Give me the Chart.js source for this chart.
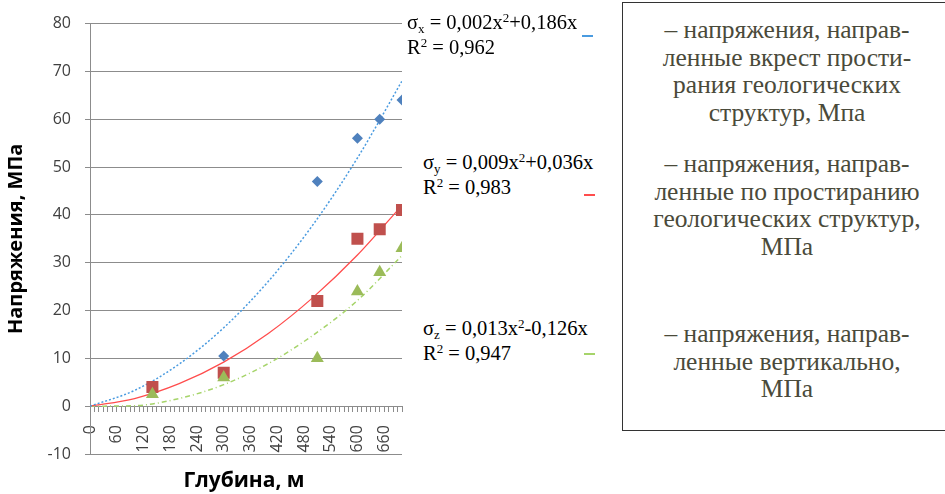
<!DOCTYPE html>
<html lang="ru">
<head>
  <meta charset="UTF-8">
  <title>Напряжения по глубине</title>
  <script src="https://cdn.jsdelivr.net/npm/chart.js"></script>
  <style>
    body {
      margin: 0;
      width: 945px;
      height: 494px;
      overflow: hidden;
      background: #fff;
      position: relative;
      font-family: 'Liberation Serif', 'Times New Roman', serif;
    }

    #stressChart {
      position: absolute;
      left: 0;
      top: 0;
    }

    .x-title {
      position: absolute;
      left: 144px;
      width: 200px;
      top: 465px;
      text-align: center;
      font: bold 21px 'Open Sans', sans-serif;
      color: #000;
    }

    .eq {
      position: absolute;
      font-size: 20.5px;
      line-height: 25px;
      color: #000;
      white-space: nowrap;
    }

    .eq sub { font-size: 13px; vertical-align: -4px; line-height: 0; }
    .eq sup { font-size: 13px; vertical-align: 7px; line-height: 0; }

    .swatch {
      position: absolute;
      width: 11px;
      height: 0;
    }

    .legend-box {
      position: absolute;
      left: 622px;
      top: 2px;
      width: 340px;
      height: 429px;
      border: 1.5px solid #333;
      box-sizing: border-box;
    }

    .legend-box p {
      position: absolute;
      left: 0;
      width: 328px;
      margin: 0;
      text-align: center;
      font-family: 'Liberation Serif', serif;
      font-size: 25.5px;
      line-height: 27.5px;
      color: #4a4a3a;
    }
  </style>
</head>
<body>
  <canvas id="stressChart" width="420" height="494"></canvas>

  <div class="x-title">Глубина, м</div>

  <div class="eq" style="left: 407px; top: 10px;">σ<sub>x</sub> = 0,002x<sup>2</sup>+0,186x<br>R<sup>2</sup> = 0,962</div>
  <div class="eq" style="left: 423px; top: 150px;">σ<sub>y</sub> = 0,009x<sup>2</sup>+0,036x<br>R<sup>2</sup> = 0,983</div>
  <div class="eq" style="left: 423px; top: 316px;">σ<sub>z</sub> = 0,013x<sup>2</sup>-0,126x<br>R<sup>2</sup> = 0,947</div>

  <div class="swatch" style="left: 582px; top: 35px; border-top: 2px dashed #4a9be0;"></div>
  <div class="swatch" style="left: 584px; top: 194px; border-top: 2px solid #ff4d4d;"></div>
  <div class="swatch" style="left: 584px; top: 353px; border-top: 2px dashed #a6d46a;"></div>

  <div class="legend-box">
    <p style="top: 13px;">– напряжения, направ-<br>ленные вкрест прости-<br>рания геологических<br>структур, Мпа</p>
    <p style="top: 147px;">– напряжения, направ-<br>ленные по простиранию<br>геологических структур,<br>МПа</p>
    <p style="top: 317px;">– напряжения, направ-<br>ленные вертикально,<br>МПа</p>
  </div>

  <script>
    // замеры на глубинах, м
    const depths = [140, 300, 510, 600, 650, 700];
    const sigmaX = [4, 10.5, 47, 56, 60, 64];
    const sigmaY = [4, 7, 22, 35, 37, 41];
    const sigmaZ = [2.5, 6, 10, 24, 28, 33];

    // линии тренда
    const trendDepths = [0, 100, 200, 300, 400, 500, 600, 700];
    const trendX = [0, 3.3, 8.8, 16.4, 26.1, 37.9, 51.9, 68];
    const trendY = [0, 1.6, 4.7, 9.2, 15.2, 22.7, 31.6, 42];
    const trendZ = [0, 0.1, 1.6, 4.5, 8.9, 14.8, 22.1, 31.5];

    const yTicks = [-10, 0, 10, 20, 30, 40, 50, 60, 70, 80];
    const xLabelStep = 60;

    const toPoints = (xs, ys) => xs.map((x, i) => ({ x: x, y: ys[i] }));

    const gridGray = '#8c8c8c';
    const tickFont = { family: 'Open Sans', size: 16 };

    const markerSet = (data, color, style, radius, order) => ({
      data: data,
      pointStyle: style,
      pointRadius: radius,
      pointHoverRadius: radius,
      backgroundColor: color,
      borderColor: color,
      borderWidth: 0,
      showLine: false,
      order: order
    });

    const trendSet = (data, color, dash, width) => ({
      data: data,
      showLine: true,
      pointRadius: 0,
      borderColor: color,
      borderWidth: width,
      borderDash: dash,
      cubicInterpolationMode: 'monotone',
      fill: false,
      order: 5
    });

    new Chart(document.getElementById('stressChart'), {
      type: 'scatter',
      data: {
        datasets: [
          markerSet(toPoints(depths, sigmaZ), '#9bbb59', 'triangle', 7.5, 0),
          markerSet(toPoints(depths, sigmaY), '#c0504d', 'rect', 8.5, 1),
          markerSet(toPoints(depths, sigmaX), '#4f81bd', 'rectRot', 5.5, 2),
          trendSet(toPoints(trendDepths, trendX), '#4a9be0', [2, 2], 1.5),
          trendSet(toPoints(trendDepths, trendY), '#ff4d4d', [], 1.3),
          trendSet(toPoints(trendDepths, trendZ), '#a6d46a', [5, 3, 1, 3], 1.5)
        ]
      },
      options: {
        responsive: false,
        animation: false,
        layout: { padding: { top: 17, right: 18, bottom: 40, left: 0 } },
        plugins: {
          legend: { display: false },
          tooltip: { enabled: false }
        },
        scales: {
          x: {
            type: 'linear',
            position: { y: 0 },
            min: 0,
            max: 700,
            afterFit: s => { s.height = 0; s.paddingLeft = 0; s.paddingRight = 0; },
            border: { color: gridGray, width: 1 },
            grid: { drawOnChartArea: false, drawTicks: true, tickLength: 5, color: gridGray },
            ticks: {
              stepSize: 10,
              autoSkip: false,
              minRotation: 90,
              maxRotation: 90,
              padding: 14,
              color: '#404040',
              font: tickFont,
              callback: v => (v % xLabelStep === 0 && v < 700) ? String(v) : ''
            }
          },
          y: {
            min: -10,
            max: 80,
            afterFit: s => { s.width = 90; },
            afterBuildTicks: s => { s.ticks = yTicks.map(v => ({ value: v })); },
            border: { color: gridGray, width: 1 },
            grid: { color: gridGray, tickLength: 5 },
            ticks: { padding: 14, color: '#404040', font: tickFont },
            title: {
              display: true,
              text: 'Напряжения, МПа',
              color: '#000',
              font: { family: 'Open Sans', size: 20, weight: 'bold' },
              padding: { top: 4, bottom: 0 }
            }
          }
        }
      }
    });
  </script>
</body>
</html>
